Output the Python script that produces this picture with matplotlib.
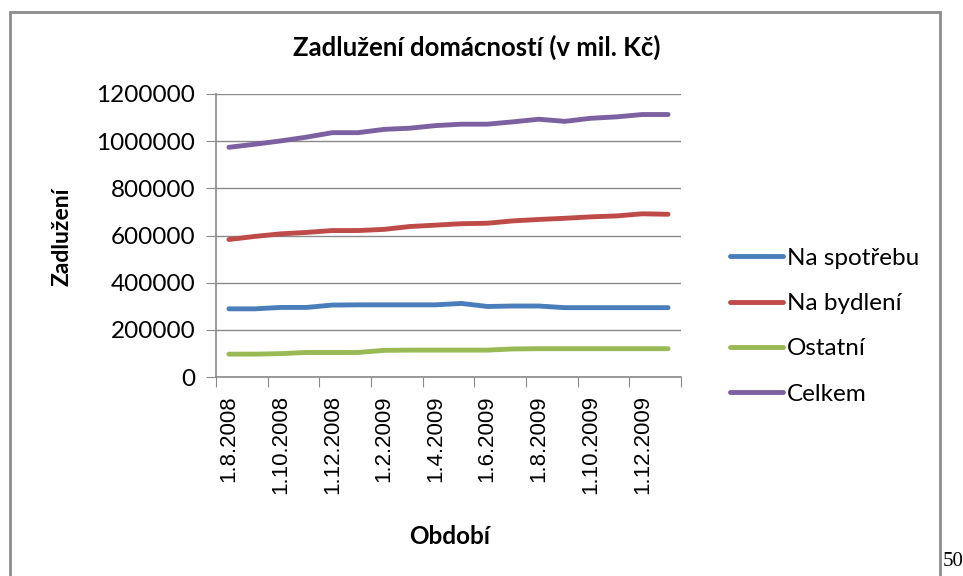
import matplotlib
matplotlib.use("Agg")
import matplotlib.pyplot as plt
from matplotlib.patches import Rectangle

# data (mil. Kč), monthly 1.8.2008 - 1.1.2010
periods = ["1.8.2008", "1.9.2008", "1.10.2008", "1.11.2008", "1.12.2008", "1.1.2009",
           "1.2.2009", "1.3.2009", "1.4.2009", "1.5.2009", "1.6.2009", "1.7.2009",
           "1.8.2009", "1.9.2009", "1.10.2009", "1.11.2009", "1.12.2009", "1.1.2010"]
spotreba = [289000, 289000, 295000, 295000, 305000, 306000, 306000, 306000, 306000,
            312000, 299000, 301000, 301000, 294000, 294000, 294000, 294000, 294000]
bydleni = [583000, 596000, 607000, 613000, 621000, 621000, 626000, 638000, 644000,
           650000, 652000, 662000, 668000, 673000, 679000, 683000, 692000, 690000]
ostatni = [97000, 97000, 99000, 104000, 104000, 104000, 113000, 114000, 114000,
           114000, 114000, 119000, 120000, 120000, 120000, 120000, 120000, 120000]
celkem = [974000, 987000, 1001000, 1017000, 1036000, 1036000, 1050000, 1055000, 1066000,
          1072000, 1072000, 1082000, 1093000, 1084000, 1097000, 1103000, 1113000, 1113000]

series = [("Na spotřebu", spotreba, "#4A7EBB"),
          ("Na bydlení", bydleni, "#BE4B48"),
          ("Ostatní", ostatni, "#98B954"),
          ("Celkem", celkem, "#7D60A0")]

W, H = 963, 576
fig = plt.figure(figsize=(W / 100, H / 100), dpi=100)

# chart frame (cut off at the bottom of the page)
fig.patches.append(Rectangle((10 / W, -0.05), 930 / W, 1.05 - 12 / H,
                             transform=fig.transFigure, fill=False,
                             edgecolor="#8c8c8c", linewidth=2))

ax = fig.add_axes([216 / W, 1 - 377 / H, 465 / W, 283 / H])
x = list(range(len(periods)))
for name, vals, col in series:
    ax.plot(x, vals, color=col, linewidth=3.5, label=name, solid_capstyle="round")

ax.set_xlim(-0.5, len(periods) - 0.5)
ax.set_ylim(0, 1200000)
ax.set_yticks(range(0, 1200001, 200000))
ax.set_yticklabels([str(v) for v in range(0, 1200001, 200000)],
                   fontsize=17.5, family="Lato")
ax.yaxis.grid(True, color="#8a8a8a", linewidth=1)
ax.set_axisbelow(True)

# ticks between every second category, labels on the categories
ax.set_xticks([i - 0.5 for i in range(0, len(periods) + 1, 2)])
ax.set_xticklabels([])
ax.set_xticks(x[::2], minor=True)
ax.set_xticklabels(periods[::2], minor=True, rotation=90,
                   fontsize=16, family="Liberation Sans")
ax.tick_params(axis="x", which="minor", length=0, pad=13)
ax.tick_params(axis="x", which="major", length=7, color="#8a8a8a")
ax.tick_params(axis="y", length=7, color="#8a8a8a", pad=8)

for s in ["top", "right"]:
    ax.spines[s].set_visible(False)
for s in ["left", "bottom"]:
    ax.spines[s].set_color("#8a8a8a")
    ax.spines[s].set_linewidth(1.2)

fig.text(477 / W, 1 - 47 / H, "Zadlužení domácností (v mil. Kč)", ha="center", va="center",
         fontsize=18.5, fontweight="bold", family="Lato")
fig.text(62 / W, 1 - 237 / H, "Zadlužení", ha="center", va="center", rotation=90,
         fontsize=16.5, fontweight="bold", family="Lato")
fig.text(450 / W, 1 - 537 / H, "Období", ha="center", va="center",
         fontsize=17.5, fontweight="bold", family="Lato")

ax.legend(loc="upper left", bbox_to_anchor=(720 / W, 1 - 238 / H),
          bbox_transform=fig.transFigure, frameon=False,
          prop={"family": "Lato", "size": 17.5}, handlelength=2.2,
          handletextpad=0.15, labelspacing=1.0, borderaxespad=0)

fig.text(943 / W, 1 - 561 / H, "50", ha="left", va="center",
         fontsize=15, family="Liberation Serif")

fig.savefig("out.png", dpi=100)
